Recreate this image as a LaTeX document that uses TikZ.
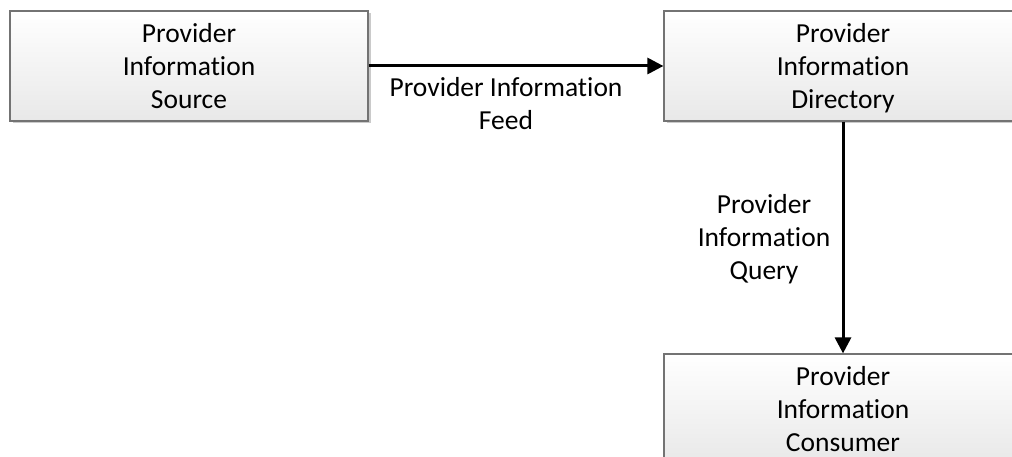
\documentclass[tikz,border=0pt]{standalone}
\usepackage{fontspec}
\setmainfont[Ligatures=NoCommon]{Carlito}
\usetikzlibrary{arrows.meta,shadows}
\newcommand{\topstrut}{\rule{0pt}{26pt}}
\newcommand{\botstrut}{\rule[-6.8pt]{0pt}{6.8pt}}

\begin{document}
\begin{tikzpicture}[x=1pt,y=-1pt,
  blockbox/.style={rectangle,draw=black!55,line width=1.2pt,top color=white,bottom color=black!9,
    drop shadow={shadow xshift=2.5pt,shadow yshift=-2.5pt,opacity=0.35,fill=black!60},
    minimum width=358pt,minimum height=110pt,inner sep=0pt,align=center,
    font=\fontsize{27.5}{33}\selectfont},
  flowlabel/.style={align=center,font=\fontsize{27.5}{33}\selectfont},
  flowarrow/.style={-{Triangle[length=16pt,width=16pt]},line width=3pt}]
\useasboundingbox (0,0) rectangle (1012,457);
\clip (0,0) rectangle (1012,457);
% \draw[help lines] (0,0) grid (1012,457);
\node (src) [blockbox] at (189,66) {\topstrut Provider\\Information\\Source\botstrut};
\node (dir) [blockbox] at (843,66) {\topstrut Provider\\Information\\Directory\botstrut};
\node (cons) [blockbox] at (843,409) {\topstrut Provider\\Information\\Consumer\botstrut};
%
\draw[flowarrow] (src) -- (dir);
\draw[flowarrow] (dir) -- (cons);
\node (feed) [flowlabel] at (506,103) {\topstrut Provider Information\\Feed\botstrut};
\node (query) [flowlabel] at (764,237) {\topstrut Provider\\Information\\Query\botstrut};
\end{tikzpicture}
\end{document}
